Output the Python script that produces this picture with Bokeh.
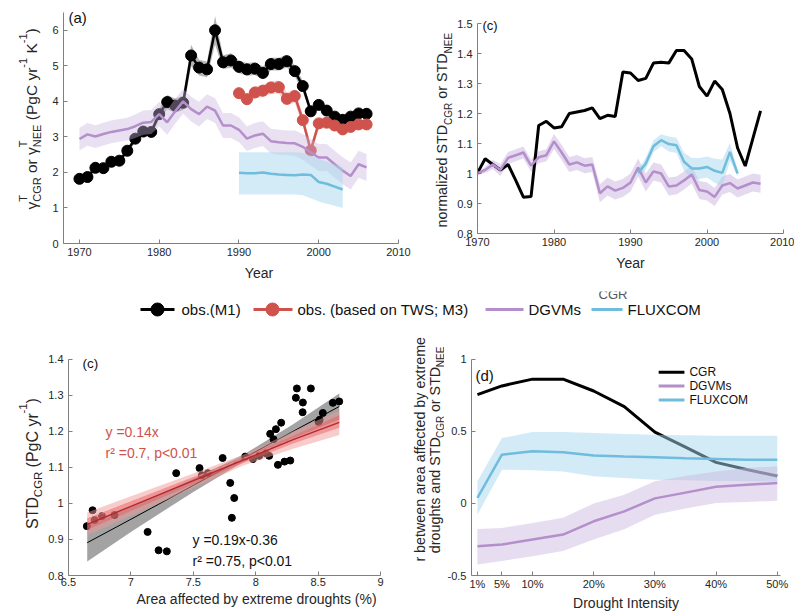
import math
from bokeh.plotting import figure
from bokeh.models import Label, FixedTicker, CustomJSTickFormatter, Spacer
from bokeh.layouts import column, row
from bokeh.embed import file_html
from bokeh.resources import INLINE

FONT = "Liberation Sans"
TXT = "#262626"
AX = "#808080"

# ---------------- data: panel (a) ----------------
years_a = list(range(1970, 2007))
obs_m1 = [1.82, 1.87, 2.13, 2.12, 2.30, 2.33, 2.61, 2.95, 3.15, 3.14,
          3.64, 3.98, 3.88, 3.96, 5.29, 4.95, 4.90, 6.00, 5.10, 5.15,
          4.97, 4.90, 4.92, 4.80, 5.05, 5.05, 5.13, 4.85, 4.43, 3.72,
          3.90, 3.74, 3.57, 3.48, 3.57, 3.66, 3.65]
obs_m1_err = [0.08, 0.08, 0.08, 0.08, 0.08, 0.08, 0.08, 0.10, 0.10, 0.10,
              0.15, 0.20, 0.20, 0.20, 0.30, 0.22, 0.22, 0.40, 0.20, 0.20,
              0.18, 0.18, 0.18, 0.18, 0.18, 0.18, 0.18, 0.15, 0.15, 0.12,
              0.12, 0.12, 0.12, 0.12, 0.12, 0.12, 0.12]
years_m3 = list(range(1990, 2007))
obs_m3 = [4.23, 4.06, 4.25, 4.30, 4.39, 4.40, 4.07, 4.15, 3.47, 2.62,
          3.38, 3.40, 3.32, 3.21, 3.28, 3.35, 3.35]
obs_m3_err = [0.16, 0.16, 0.17, 0.17, 0.18, 0.18, 0.18, 0.18, 0.15, 0.12,
              0.15, 0.15, 0.13, 0.13, 0.13, 0.13, 0.13]
dgvm_a = [2.94, 3.07, 3.01, 3.08, 3.14, 3.18, 3.22, 3.30, 3.40, 3.42,
          3.64, 3.41, 3.72, 4.00, 3.78, 3.64, 3.85, 3.74, 3.32, 3.32,
          3.20, 2.95, 3.04, 3.09, 2.88, 2.85, 2.83, 2.82, 2.72, 2.56,
          2.42, 2.42, 2.23, 2.05, 1.90, 2.23, 2.14]
dgvm_a_err = [0.32, 0.32, 0.32, 0.32, 0.32, 0.32, 0.32, 0.33, 0.34, 0.34,
              0.35, 0.35, 0.35, 0.35, 0.35, 0.35, 0.35, 0.35, 0.35, 0.35,
              0.35, 0.35, 0.35, 0.35, 0.35, 0.35, 0.35, 0.36, 0.36, 0.37,
              0.38, 0.38, 0.38, 0.38, 0.38, 0.38, 0.38]
years_flux_a = list(range(1990, 2004))
flux_a = [1.99, 1.98, 1.98, 2.00, 1.96, 1.94, 1.93, 1.92, 1.94, 1.93,
          1.73, 1.68, 1.60, 1.52]
flux_a_lo = [1.38, 1.38, 1.38, 1.38, 1.38, 1.38, 1.38, 1.38, 1.36, 1.27,
             1.18, 1.12, 1.06, 1.00]
flux_a_hi = [2.57, 2.57, 2.57, 2.57, 2.57, 2.57, 2.57, 2.57, 2.55, 2.48,
             2.38, 2.30, 2.22, 2.14]

# ---------------- data: panel (c) top ----------------
years_c = list(range(1970, 2008))
cgr_norm = [1.002, 1.049, 1.030, 1.012, 1.030, 0.977, 0.921, 0.923, 1.160, 1.174,
            1.152, 1.156, 1.200, 1.205, 1.210, 1.219, 1.183, 1.194, 1.190, 1.338,
            1.335, 1.310, 1.317, 1.368, 1.371, 1.368, 1.410, 1.410, 1.382, 1.290,
            1.258, 1.308, 1.280, 1.200, 1.085, 1.025, 1.117, 1.209]
dgvm_norm = [1.000, 1.012, 1.030, 1.012, 1.052, 1.061, 1.070, 1.026, 1.054, 1.061,
             1.107, 1.070, 1.030, 1.037, 1.026, 1.030, 0.934, 0.957, 0.943, 0.952,
             0.970, 1.020, 0.970, 1.007, 1.000, 0.957, 0.960, 0.977, 0.997, 0.945,
             0.940, 0.922, 0.960, 0.968, 0.950, 0.960, 0.970, 0.966]
dgvm_norm_err = [0.005, 0.01, 0.015, 0.02, 0.02, 0.02, 0.02, 0.02, 0.02, 0.02,
                 0.025, 0.025, 0.025, 0.025, 0.025, 0.025, 0.03, 0.03, 0.03, 0.03,
                 0.03, 0.03, 0.03, 0.03, 0.03, 0.03, 0.03, 0.03, 0.03, 0.03,
                 0.03, 0.03, 0.03, 0.03, 0.03, 0.03, 0.03, 0.03]
years_flux_c = list(range(1991, 2005))
flux_norm = [1.002, 1.033, 1.091, 1.111, 1.098, 1.094, 1.039, 1.017, 1.017, 1.022,
             1.009, 1.002, 1.072, 1.000]
flux_norm_err = [0.01, 0.02, 0.02, 0.02, 0.025, 0.025, 0.03, 0.035, 0.035, 0.035,
                 0.04, 0.045, 0.03, 0.01]

# ---------------- data: panel (c) bottom scatter ----------------
drought_area = [6.647, 6.693, 6.709, 6.768, 6.869, 7.134, 7.222, 7.288, 7.363, 7.550,
                7.569, 7.617, 7.735, 7.796, 7.828, 7.809, 7.916, 7.978, 8.028, 8.082,
                8.108, 8.116, 8.143, 8.162, 8.204, 8.178, 8.231, 8.277, 8.322, 8.330,
                8.378, 8.376, 8.442, 8.504, 8.512, 8.538, 8.618, 8.669]
std_cgr = [0.937, 0.981, 0.954, 0.965, 0.968, 0.921, 0.870, 0.867, 1.084, 1.098,
           1.078, 1.084, 1.126, 1.057, 1.015, 0.960, 1.130, 1.123, 1.132, 1.139,
           1.132, 1.193, 1.178, 1.206, 1.224, 1.107, 1.116, 1.119, 1.293, 1.319,
           1.280, 1.253, 1.319, 1.226, 1.232, 1.251, 1.279, 1.283]
fit_x = [6.65, 7.0, 7.5, 7.9, 8.3, 8.67]
fit_all = [0.891, 0.956, 1.050, 1.125, 1.200, 1.269]
fit_all_lo = [0.839, 0.921, 1.032, 1.115, 1.180, 1.233]
fit_all_hi = [0.943, 0.991, 1.068, 1.135, 1.220, 1.305]
fit_tws = [0.942, 0.992, 1.063, 1.120, 1.177, 1.225]
fit_tws_dash = [0.957, 1.003, 1.070, 1.124, 1.180, 1.230]
fit_tws_lo = [0.912, 0.965, 1.043, 1.105, 1.152, 1.190]
fit_tws_hi = [0.975, 1.020, 1.083, 1.135, 1.200, 1.258]
fit_tws_lo_in = [0.927, 0.979, 1.053, 1.112, 1.166, 1.210]
fit_tws_hi_in = [0.958, 1.006, 1.073, 1.128, 1.188, 1.245]

# ---------------- data: panel (d) ----------------
intensity = [1, 5, 10, 15, 20, 25, 30, 35, 40, 45, 50]
r_cgr = [0.755, 0.815, 0.862, 0.862, 0.780, 0.672, 0.495, 0.390, 0.285, 0.235, 0.190]
r_dgvm = [-0.297, -0.285, -0.251, -0.216, -0.124, -0.055, 0.035, 0.075, 0.115, 0.130, 0.141]
r_dgvm_lo = [-0.424, -0.400, -0.366, -0.330, -0.250, -0.180, -0.078, -0.035, 0.003, 0.010, 0.018]
r_dgvm_hi = [-0.177, -0.170, -0.135, -0.100, 0.000, 0.060, 0.153, 0.190, 0.222, 0.245, 0.257]
r_flux = [0.038, 0.338, 0.362, 0.355, 0.333, 0.326, 0.320, 0.313, 0.308, 0.303, 0.303]
r_flux_lo = [-0.078, 0.234, 0.230, 0.222, 0.188, 0.176, 0.165, 0.160, 0.155, 0.153, 0.153]
r_flux_hi = [0.153, 0.453, 0.495, 0.495, 0.488, 0.482, 0.476, 0.473, 0.470, 0.470, 0.470]

# ---------------- colours ----------------
C_BLACK = "#000000"
C_RED = "#d0524c"
C_PURPLE = "#b48fcb"
C_PURPLE_BAND = "#c9b3dd"
C_BLUE = "#70bcdc"
C_BLUE_BAND = "#a8d8ee"

# ---------------- helpers ----------------
W = {' ': 0.278, '(': 0.333, ')': 0.333, '-': 0.333, '.': 0.278, ';': 0.278,
     '%': 0.889, ',': 0.278, 'a': 0.556, 'b': 0.556, 'c': 0.5, 'd': 0.556,
     'e': 0.556, 'f': 0.278, 'g': 0.556, 'h': 0.556, 'i': 0.222, 'k': 0.5,
     'l': 0.222, 'm': 0.833, 'n': 0.556, 'o': 0.556, 'p': 0.556, 'r': 0.333,
     's': 0.5, 't': 0.278, 'u': 0.556, 'w': 0.722, 'x': 0.5, 'y': 0.5, 'z': 0.5,
     'A': 0.667, 'C': 0.722, 'D': 0.722, 'E': 0.667, 'G': 0.778, 'K': 0.667,
     'M': 0.833, 'N': 0.722, 'P': 0.667, 'R': 0.722, 'S': 0.667, 'T': 0.611,
     'γ': 0.5}


def tw(s, fs):
    return sum(W.get(c, 0.556) for c in s) * fs


class Frame:
    """Linear map from page pixels to data coordinates."""
    def __init__(self, L, R, T, B, x0, x1, y0, y1):
        self.L, self.R, self.T, self.B = L, R, T, B
        self.x0, self.x1, self.y0, self.y1 = x0, x1, y0, y1

    def x(self, px):
        return self.x0 + (px - self.L) / (self.R - self.L) * (self.x1 - self.x0)

    def y(self, py):
        return self.y0 + (self.B - py) / (self.B - self.T) * (self.y1 - self.y0)


def make_fig(data_box, xr, yr, frame_box, canvas_box, xticks, yticks, xfmt, yfmt,
             xstand=4, lab_stand=6):
    L, R, T, B = data_box
    FL, FR, FT, FB = frame_box
    CL, CR, CT, CB = canvas_box
    fr = Frame(L, R, T, B, xr[0], xr[1], yr[0], yr[1])
    p = figure(width=CR - CL, height=CB - CT,
               x_range=(fr.x(FL), fr.x(FR)), y_range=(fr.y(FB), fr.y(FT)),
               min_border_left=FL - CL, min_border_right=CR - FR,
               min_border_top=FT - CT, min_border_bottom=CB - FB,
               output_backend="svg", toolbar_location=None)
    p.grid.visible = False
    p.outline_line_color = None
    for ax in p.axis:
        ax.axis_line_color = AX
        ax.major_tick_line_color = AX
        ax.major_tick_in = 4
        ax.major_tick_out = 0
        ax.minor_tick_line_color = None
        ax.major_label_text_font = FONT
        ax.major_label_text_font_size = "11px"
        ax.major_label_text_color = TXT
        ax.axis_label_text_font = FONT
        ax.axis_label_text_font_size = "14px"
        ax.axis_label_text_font_style = "normal"
        ax.axis_label_text_color = TXT
        ax.axis_label_standoff = lab_stand
    p.xaxis.bounds = xr
    p.yaxis.bounds = yr
    p.xaxis.ticker = FixedTicker(ticks=xticks)
    p.yaxis.ticker = FixedTicker(ticks=yticks)
    p.xaxis.formatter = CustomJSTickFormatter(code=xfmt)
    p.yaxis.formatter = CustomJSTickFormatter(code=yfmt)
    p.xaxis.major_label_standoff = xstand
    p.yaxis.major_label_standoff = 5
    return p, fr


def strip(CL, CR, CT, CB, bottom=0):
    w, h = CR - CL, CB - CT
    fh = h - bottom
    p = figure(width=w, height=h, x_range=(0, w), y_range=(0, fh),
               min_border_left=0, min_border_right=0, min_border_top=0,
               min_border_bottom=bottom, x_axis_location=None, y_axis_location=None,
               output_backend="svg", toolbar_location=None)
    p.grid.visible = False
    p.outline_line_color = None
    return p, Frame(CL, CR, CT, CT + fh, 0, w, 0, fh)


def htext(p, fr, px, py, text, size, color=TXT, align="left", baseline="middle"):
    p.add_layout(Label(x=fr.x(px), y=fr.y(py), text=text, text_font=FONT,
                       text_font_size=f"{size}px", text_color=color,
                       text_align=align, text_baseline=baseline))


def vtext(p, fr, px, py, pieces, color=TXT):
    """Rotated (bottom-to-top) text built from pieces with sub/superscripts."""
    y = py
    for txt, fs, shift, adv in pieces:
        body = txt.strip(" ")
        lead = len(txt) - len(txt.lstrip(" "))
        trail = len(txt) - len(txt.rstrip(" "))
        y -= tw(" " * lead, fs)
        p.add_layout(Label(x=fr.x(px + shift), y=fr.y(y), text=body, angle=math.pi / 2,
                           text_font=FONT, text_font_size=f"{fs}px", text_color=color,
                           text_align="left", text_baseline="middle"))
        if adv:
            y -= tw(body, fs) + tw(" " * trail, fs)


TOSTR = "return tick.toString();"
PCT = "return tick.toString() + '%';"

# =============== ROW 1 (page y 0..291) ===============
la, la_fr = strip(0, 44, 0, 291, bottom=48)
vtext(la, la_fr, 30.5, 209, [("γ", 15.5, 0, True), ("T", 11, -8, False), ("CGR", 11, 6, True),
                             (" or ", 15.5, 0, True), ("γ", 15.5, 0, True), ("T", 11, -8, False),
                             ("NEE", 11, 6, True), (" (PgC yr", 15.5, 0, True),
                             ("-1", 11, -8, True), (" K", 15.5, 0, True), ("-1", 11, -8, True),
                             (")", 15.5, 0, True)])

pa, fa_fr = make_fig((63, 398, 12, 243), (1968, 2010), (0, 6.5),
                     (63, 454, 0, 243), (44, 454, 0, 291),
                     [1970, 1980, 1990, 2000, 2010], [0, 1, 2, 3, 4, 5, 6], TOSTR, TOSTR)
pa.xaxis.axis_label = "Year"
pa.varea(x=years_a, y1=[v - e for v, e in zip(obs_m1, obs_m1_err)],
         y2=[v + e for v, e in zip(obs_m1, obs_m1_err)], fill_color="#7a7a7a", fill_alpha=0.55)
pa.line(years_a, obs_m1, line_width=2.5, color=C_BLACK)
pa.scatter(years_a, obs_m1, size=11, color=C_BLACK)
pa.varea(x=years_m3, y1=[v - e for v, e in zip(obs_m3, obs_m3_err)],
         y2=[v + e for v, e in zip(obs_m3, obs_m3_err)], fill_color="#e8a09b", fill_alpha=0.5)
pa.line(years_m3, obs_m3, line_width=2.5, color=C_RED)
pa.scatter(years_m3, obs_m3, size=11, color=C_RED)
pa.varea(x=years_a, y1=[v - e for v, e in zip(dgvm_a, dgvm_a_err)],
         y2=[v + e for v, e in zip(dgvm_a, dgvm_a_err)], fill_color=C_PURPLE_BAND, fill_alpha=0.4)
pa.line(years_a, dgvm_a, line_width=2.5, color=C_PURPLE)
pa.varea(x=years_flux_a, y1=flux_a_lo, y2=flux_a_hi, fill_color=C_BLUE_BAND, fill_alpha=0.5)
pa.line(years_flux_a, flux_a, line_width=2.5, color=C_BLUE)
htext(pa, fa_fr, 68, 17, "(a)", 15, color="#111111")
# y-label of the top-right panel lies in the empty right part of this canvas
vtext(pa, fa_fr, 441, 227, [("normalized STD", 14.3, 0, True), ("CGR", 10, 7, True),
                            (" or STD", 14.3, 0, True), ("NEE", 10, 7, True)])

pc, fc_fr = make_fig((477, 783, 23, 233), (1970, 2010), (0.8, 1.5),
                     (477, 783, 0, 233), (454, 794, 0, 281),
                     [1970, 1980, 1990, 2000, 2010],
                     [0.8, 0.9, 1.0, 1.1, 1.2, 1.3, 1.4, 1.5], TOSTR, TOSTR)
pc.xaxis.axis_label = "Year"
pc.varea(x=years_c, y1=[v - e for v, e in zip(dgvm_norm, dgvm_norm_err)],
         y2=[v + e for v, e in zip(dgvm_norm, dgvm_norm_err)], fill_color=C_PURPLE_BAND, fill_alpha=0.5)
pc.varea(x=years_flux_c, y1=[v - e for v, e in zip(flux_norm, flux_norm_err)],
         y2=[v + e for v, e in zip(flux_norm, flux_norm_err)], fill_color=C_BLUE_BAND, fill_alpha=0.5)
pc.line(years_c, cgr_norm, line_width=3, color=C_BLACK)
pc.line(years_c, dgvm_norm, line_width=2.5, color=C_PURPLE)
pc.line(years_flux_c, flux_norm, line_width=2.5, color=C_BLUE)
htext(pc, fc_fr, 482, 25, "(c)", 13, color="#111111")

# =============== LEGEND ROW (page y 291..330) ===============
pl, pl_fr = strip(0, 794, 291, 330)
LEG_Y = 309
pl.line([pl_fr.x(140), pl_fr.x(174)], [pl_fr.y(LEG_Y)] * 2, line_width=3, color=C_BLACK)
pl.scatter([pl_fr.x(157)], [pl_fr.y(LEG_Y)], size=13, color=C_BLACK)
pl.line([pl_fr.x(253), pl_fr.x(292)], [pl_fr.y(LEG_Y)] * 2, line_width=3, color=C_RED)
pl.scatter([pl_fr.x(272)], [pl_fr.y(LEG_Y)], size=13, color=C_RED)
pl.line([pl_fr.x(485), pl_fr.x(523)], [pl_fr.y(LEG_Y)] * 2, line_width=3, color=C_PURPLE)
pl.line([pl_fr.x(591), pl_fr.x(622)], [pl_fr.y(LEG_Y)] * 2, line_width=3, color=C_BLUE)
for px, t in [(181, "obs.(M1)"), (297, "obs. (based on TWS; M3)"), (528, "DGVMs"), (627, "FLUXCOM")]:
    htext(pl, pl_fr, px, LEG_Y, t, 15, color="#111111")
htext(pl, pl_fr, 598, 293.5, "CGR", 13, color="#555555", baseline="alphabetic")

# =============== ROW 3 (page y 330..613) ===============
ls, ls_fr = strip(0, 45, 330, 613, bottom=36)
vtext(ls, ls_fr, 31.7, 530, [("STD", 16, 0, True), ("CGR", 11.5, 6, True),
                             (" (PgC yr", 16, 0, True), ("-1", 11.5, -9, True), (")", 16, 0, True)])

ps, fs_fr = make_fig((68, 380, 359, 577), (6.5, 9.0), (0.8, 1.4),
                     (68, 444, 330, 577), (45, 444, 330, 613),
                     [6.5, 7, 7.5, 8, 8.5, 9], [0.8, 0.9, 1.0, 1.1, 1.2, 1.3, 1.4],
                     TOSTR, TOSTR, xstand=2, lab_stand=2)
ps.xaxis.axis_label = "Area affected by extreme droughts (%)"
ps.varea(x=fit_x, y1=fit_all_lo, y2=fit_all_hi, fill_color="#8c8c8c", fill_alpha=0.8)
ps.line(fit_x, fit_all, line_width=1, color=C_BLACK)
ps.scatter(drought_area, std_cgr, size=7, color=C_BLACK)
ps.varea(x=fit_x, y1=fit_tws_lo, y2=fit_tws_hi, fill_color="#f39a9a", fill_alpha=0.5)
ps.varea(x=fit_x, y1=fit_tws_lo_in, y2=fit_tws_hi_in, fill_color="#e0585c", fill_alpha=0.45)
ps.line(fit_x, fit_tws_dash, line_width=1, color="#ee9090", line_dash="5 3")
ps.line(fit_x, fit_tws, line_width=1.3, color="#b8262c")
htext(ps, fs_fr, 82, 363, "(c)", 13.5, color="#111111")
htext(ps, fs_fr, 105, 432, "y =0.14x", 14, color=C_RED)
htext(ps, fs_fr, 105, 454, "r² =0.7, p<0.01", 14, color=C_RED)
htext(ps, fs_fr, 192, 541, "y =0.19x-0.36", 14, color="#111111")
htext(ps, fs_fr, 192, 562, "r² =0.75, p<0.01", 14, color="#111111")
# y-label of panel (d) lies in the empty right part of this canvas
vtext(ps, fs_fr, 419, 563, [("r between area affected by extreme", 14.3, 0, True)])
vtext(ps, fs_fr, 434, 554.5, [("droughts and STD", 14.3, 0, True), ("CGR", 10, 5.5, True),
                              (" or STD", 14.3, 0, True), ("NEE", 10, 5.5, True)])

pdd, fd_fr = make_fig((468, 780, 359, 577), (0.03, 50.53), (-0.5, 1.0),
                      (468, 780, 330, 577), (444, 794, 330, 613),
                      [1, 5, 10, 20, 30, 40, 50], [-0.5, 0, 0.5, 1], PCT, TOSTR,
                      xstand=2, lab_stand=2)
pdd.xaxis.axis_label = "Drought Intensity"
pdd.line(intensity, r_cgr, line_width=3, color=C_BLACK)
pdd.varea(x=intensity, y1=r_flux_lo, y2=r_flux_hi, fill_color=C_BLUE_BAND, fill_alpha=0.5)
pdd.varea(x=intensity, y1=r_dgvm_lo, y2=r_dgvm_hi, fill_color=C_PURPLE_BAND, fill_alpha=0.45)
pdd.line(intensity, r_flux, line_width=2.5, color=C_BLUE)
pdd.line(intensity, r_dgvm, line_width=2.5, color=C_PURPLE)
htext(pdd, fd_fr, 472, 375, "(d)", 15, color="#111111")
for (yy, col, name) in [(372, C_BLACK, "CGR"), (386, C_PURPLE, "DGVMs"), (400, C_BLUE, "FLUXCOM")]:
    pdd.line([fd_fr.x(657), fd_fr.x(683)], [fd_fr.y(yy)] * 2, line_width=3, color=col)
    htext(pdd, fd_fr, 688, yy, name, 12, color="#111111")

layout = column(row(la, pa, column(pc, Spacer(width=340, height=10))), pl, row(ls, ps, pdd))
open("out.html", "w").write(file_html(layout, INLINE))
